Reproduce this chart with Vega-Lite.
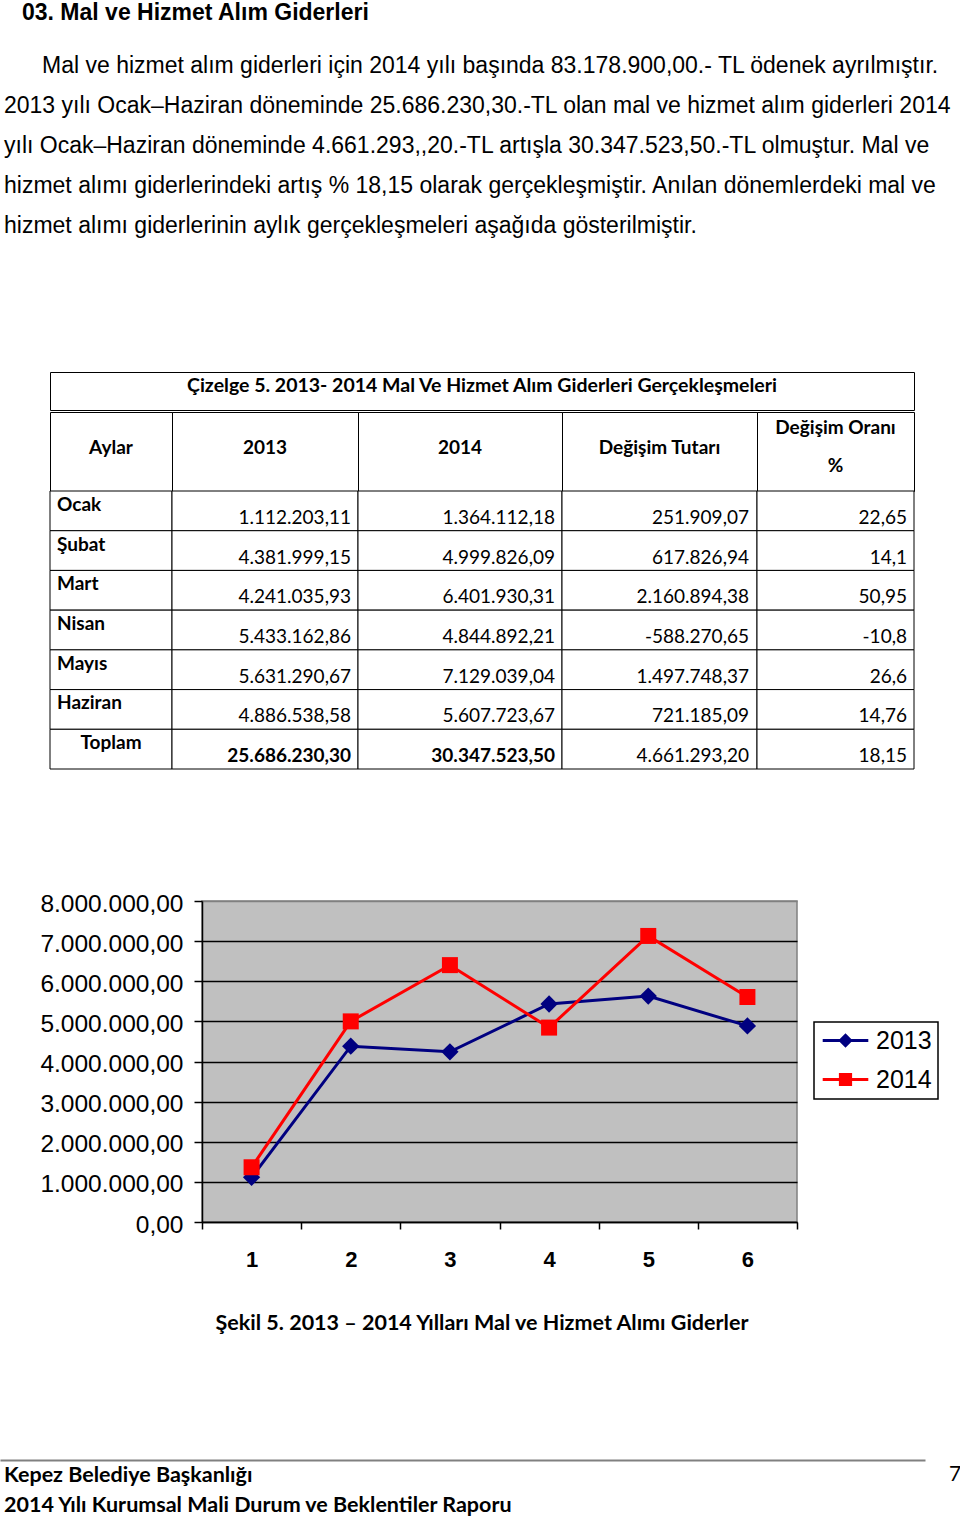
{
  "$schema": "https://vega.github.io/schema/vega-lite/v6.json",
  "padding": 0,
  "background": "white",
  "spacing": 0,
  "config": {
    "view": {"stroke": null},
    "font": "Liberation Sans",
    "text": {"color": "black"},
    "axis": {"labelColor": "black"},
    "legend": {"strokeWidth": 1.5},
    "locale": {"number": {"decimal": ",", "thousands": ".", "grouping": [3], "currency": ["", ""], "minus": "-"}}
  },
  "datasets": {
    "tablo": [
      {"no": 1, "ay": "Ocak", "2013": 1112203.11, "2014": 1364112.18, "tutar": 251909.07, "oran": 22.65},
      {"no": 2, "ay": "Şubat", "2013": 4381999.15, "2014": 4999826.09, "tutar": 617826.94, "oran": 14.1},
      {"no": 3, "ay": "Mart", "2013": 4241035.93, "2014": 6401930.31, "tutar": 2160894.38, "oran": 50.95},
      {"no": 4, "ay": "Nisan", "2013": 5433162.86, "2014": 4844892.21, "tutar": -588270.65, "oran": -10.8},
      {"no": 5, "ay": "Mayıs", "2013": 5631290.67, "2014": 7129039.04, "tutar": 1497748.37, "oran": 26.6},
      {"no": 6, "ay": "Haziran", "2013": 4886538.58, "2014": 5607723.67, "tutar": 721185.09, "oran": 14.76},
      {"no": 7, "ay": "Toplam", "2013": 25686230.30, "2014": 30347523.50, "tutar": 4661293.20, "oran": 18.15}
    ]
  },
  "vconcat": [
    {
      "width": 960, "height": 26,
      "data": {"values": [{"t": "03. Mal ve Hizmet Alım Giderleri"}]},
      "mark": {"type": "text", "align": "left", "dx": 22, "font": "Liberation Sans", "fontSize": 23, "fontWeight": "bold", "color": "black"},
      "encoding": {"text": {"field": "t"}, "x": {"value": 0}}
    },
    {"width": 960, "height": 20, "data": {"values": [{}]}, "mark": {"type": "text"}, "encoding": {"text": {"value": ""}}},
    {
      "width": 960, "height": 200,
      "data": {"values": [
        {"s": 1, "t": "Mal ve hizmet alım giderleri için 2014 yılı başında 83.178.900,00.- TL ödenek ayrılmıştır."},
        {"s": 2, "t": "2013 yılı Ocak–Haziran döneminde 25.686.230,30.-TL olan mal ve hizmet alım giderleri 2014"},
        {"s": 3, "t": "yılı Ocak–Haziran döneminde 4.661.293,,20.-TL artışla 30.347.523,50.-TL olmuştur. Mal ve"},
        {"s": 4, "t": "hizmet alımı giderlerindeki artış % 18,15 olarak gerçekleşmiştir. Anılan dönemlerdeki mal ve"},
        {"s": 5, "t": "hizmet alımı giderlerinin aylık gerçekleşmeleri aşağıda gösterilmiştir."}
      ]},
      "encoding": {
        "y": {"field": "s", "type": "ordinal", "scale": {"paddingInner": 0, "paddingOuter": 0}, "axis": null},
        "x": {"value": 0},
        "text": {"field": "t"}
      },
      "layer": [
        {"transform": [{"filter": "datum.s === 1"}], "mark": {"type": "text", "align": "left", "dx": 42, "font": "Liberation Sans", "fontSize": 23, "color": "black"}},
        {"transform": [{"filter": "datum.s > 1"}], "mark": {"type": "text", "align": "left", "dx": 4, "font": "Liberation Sans", "fontSize": 23, "color": "black"}}
      ]
    },
    {"width": 960, "height": 125, "data": {"values": [{}]}, "mark": {"type": "text"}, "encoding": {"text": {"value": ""}}},
    {
      "spacing": 0, "bounds": "flush",
      "hconcat": [
        {"width": 50, "height": 38, "data": {"values": [{}]}, "mark": {"type": "text"}, "encoding": {"text": {"value": ""}}},
        {
          "width": 864, "height": 38, "view": {"stroke": "black"},
          "data": {"values": [{"t": "Çizelge 5. 2013- 2014 Mal Ve Hizmet Alım Giderleri Gerçekleşmeleri"}]},
          "mark": {"type": "text", "font": "Lato", "fontSize": 19.5, "fontWeight": "bold", "dy": -5, "color": "black"},
          "encoding": {"text": {"field": "t"}}
        }
      ]
    },
    {
      "columns": 6, "spacing": 0, "bounds": "flush",
      "concat": [
        {"width": 50, "height": 79, "data": {"values": [{}]}, "mark": {"type": "text"}, "encoding": {"text": {"value": ""}}},
        {"width": 122, "height": 79, "view": {"stroke": "black"}, "data": {"values": [{"t": "Aylar"}]},
         "mark": {"type": "text", "font": "Lato", "fontSize": 19, "fontWeight": "bold", "dy": -4, "color": "black"}, "encoding": {"text": {"field": "t"}}},
        {"width": 186, "height": 79, "view": {"stroke": "black"}, "data": {"values": [{"t": "2013"}]},
         "mark": {"type": "text", "font": "Lato", "fontSize": 19, "fontWeight": "bold", "dy": -4, "color": "black"}, "encoding": {"text": {"field": "t"}}},
        {"width": 204, "height": 79, "view": {"stroke": "black"}, "data": {"values": [{"t": "2014"}]},
         "mark": {"type": "text", "font": "Lato", "fontSize": 19, "fontWeight": "bold", "dy": -4, "color": "black"}, "encoding": {"text": {"field": "t"}}},
        {"width": 195, "height": 79, "view": {"stroke": "black"}, "data": {"values": [{"t": "Değişim Tutarı"}]},
         "mark": {"type": "text", "font": "Lato", "fontSize": 19, "fontWeight": "bold", "dy": -4, "color": "black"}, "encoding": {"text": {"field": "t"}}},
        {"width": 157, "height": 79, "view": {"stroke": "black"}, "data": {"values": [{"t": "Değişim Oranı\n%"}]},
         "mark": {"type": "text", "font": "Lato", "fontSize": 19, "fontWeight": "bold", "dy": -23.5, "lineBreak": "\n", "lineHeight": 38, "color": "black"}, "encoding": {"text": {"field": "t"}}},

        {"width": 50, "height": 278, "data": {"values": [{}]}, "mark": {"type": "text"}, "encoding": {"text": {"value": ""}}},
        {
          "width": 122, "height": 278, "data": {"name": "tablo"},
          "encoding": {"y": {"field": "no", "type": "ordinal", "scale": {"paddingInner": 0, "paddingOuter": 0}, "axis": null}},
          "layer": [
            {"mark": {"type": "rect", "fill": "white", "stroke": "black", "strokeWidth": 1}, "encoding": {"x": {"value": 0}, "x2": {"value": "width"}}},
            {"transform": [{"filter": "datum.no < 7"}], "mark": {"type": "text", "align": "left", "dx": 7, "dy": -6, "font": "Lato", "fontSize": 19, "fontWeight": "bold", "color": "black"},
             "encoding": {"x": {"value": 0}, "text": {"field": "ay"}}},
            {"transform": [{"filter": "datum.no === 7"}], "mark": {"type": "text", "dy": -6, "font": "Lato", "fontSize": 19, "fontWeight": "bold", "color": "black"},
             "encoding": {"text": {"field": "ay"}}}
          ]
        },
        {
          "width": 186, "height": 278, "data": {"name": "tablo"},
          "encoding": {"y": {"field": "no", "type": "ordinal", "scale": {"paddingInner": 0, "paddingOuter": 0}, "axis": null}},
          "layer": [
            {"mark": {"type": "rect", "fill": "white", "stroke": "black", "strokeWidth": 1}, "encoding": {"x": {"value": 0}, "x2": {"value": "width"}}},
            {"transform": [{"filter": "datum.no < 7"}], "mark": {"type": "text", "align": "right", "dx": -7, "dy": 7, "font": "Lato", "fontSize": 19, "color": "black"},
             "encoding": {"x": {"value": "width"}, "text": {"field": "2013", "type": "quantitative", "format": ",.2f"}}},
            {"transform": [{"filter": "datum.no === 7"}], "mark": {"type": "text", "align": "right", "dx": -7, "dy": 7, "font": "Lato", "fontSize": 19, "fontWeight": "bold", "color": "black"},
             "encoding": {"x": {"value": "width"}, "text": {"field": "2013", "type": "quantitative", "format": ",.2f"}}}
          ]
        },
        {
          "width": 204, "height": 278, "data": {"name": "tablo"},
          "encoding": {"y": {"field": "no", "type": "ordinal", "scale": {"paddingInner": 0, "paddingOuter": 0}, "axis": null}},
          "layer": [
            {"mark": {"type": "rect", "fill": "white", "stroke": "black", "strokeWidth": 1}, "encoding": {"x": {"value": 0}, "x2": {"value": "width"}}},
            {"transform": [{"filter": "datum.no < 7"}], "mark": {"type": "text", "align": "right", "dx": -7, "dy": 7, "font": "Lato", "fontSize": 19, "color": "black"},
             "encoding": {"x": {"value": "width"}, "text": {"field": "2014", "type": "quantitative", "format": ",.2f"}}},
            {"transform": [{"filter": "datum.no === 7"}], "mark": {"type": "text", "align": "right", "dx": -7, "dy": 7, "font": "Lato", "fontSize": 19, "fontWeight": "bold", "color": "black"},
             "encoding": {"x": {"value": "width"}, "text": {"field": "2014", "type": "quantitative", "format": ",.2f"}}}
          ]
        },
        {
          "width": 195, "height": 278, "data": {"name": "tablo"},
          "encoding": {"y": {"field": "no", "type": "ordinal", "scale": {"paddingInner": 0, "paddingOuter": 0}, "axis": null}},
          "layer": [
            {"mark": {"type": "rect", "fill": "white", "stroke": "black", "strokeWidth": 1}, "encoding": {"x": {"value": 0}, "x2": {"value": "width"}}},
            {"mark": {"type": "text", "align": "right", "dx": -8, "dy": 7, "font": "Lato", "fontSize": 19, "color": "black"},
             "encoding": {"x": {"value": "width"}, "text": {"field": "tutar", "type": "quantitative", "format": ",.2f"}}}
          ]
        },
        {
          "width": 157, "height": 278, "data": {"name": "tablo"},
          "encoding": {"y": {"field": "no", "type": "ordinal", "scale": {"paddingInner": 0, "paddingOuter": 0}, "axis": null}},
          "layer": [
            {"mark": {"type": "rect", "fill": "white", "stroke": "black", "strokeWidth": 1}, "encoding": {"x": {"value": 0}, "x2": {"value": "width"}}},
            {"mark": {"type": "text", "align": "right", "dx": -7, "dy": 7, "font": "Lato", "fontSize": 19, "color": "black"},
             "encoding": {"x": {"value": "width"}, "text": {"field": "oran", "type": "quantitative", "format": ",.2~f"}}}
          ]
        }
      ]
    },
    {"width": 960, "height": 120, "data": {"values": [{}]}, "mark": {"type": "text"}, "encoding": {"text": {"value": ""}}},
    {
      "spacing": 0, "bounds": "flush",
      "hconcat": [
        {"width": 202, "height": 321, "data": {"values": [{}]}, "mark": {"type": "text"}, "encoding": {"text": {"value": ""}}},
        {
          "width": 595, "height": 321,
          "view": {"fill": "#c0c0c0", "stroke": "#808080", "strokeWidth": 1.5},
          "data": {"name": "tablo"},
          "transform": [
            {"filter": "datum.no < 7"},
            {"fold": ["2013", "2014"], "as": ["yil", "deger"]}
          ],
          "encoding": {
            "x": {"field": "no", "type": "ordinal", "scale": {"paddingInner": 0, "paddingOuter": 0},
                  "axis": {"title": null, "labelAngle": 0, "tickBand": "extent", "ticks": true, "tickSize": 7, "tickColor": "black", "tickWidth": 1.5,
                           "domainColor": "black", "domainWidth": 1.5, "labelFont": "Liberation Sans", "labelFontSize": 22, "labelFontWeight": "bold",
                           "labelPadding": 20, "labelColor": "black", "grid": false}},
            "y": {"field": "deger", "type": "quantitative", "scale": {"domain": [0, 8000000], "nice": false},
                  "axis": {"title": null, "values": [0, 1000000, 2000000, 3000000, 4000000, 5000000, 6000000, 7000000, 8000000],
                           "format": ",.2f", "labelFont": "Liberation Sans", "labelFontSize": 24.5, "labelColor": "black", "labelPadding": 11, "labelOffset": 3,
                           "tickSize": 8, "tickColor": "black", "tickWidth": 1.5, "domainColor": "black", "domainWidth": 1.5,
                           "grid": true, "gridWidth": 1.5, "gridColor": {"condition": {"test": "datum.value === 8000000", "value": "#808080"}, "value": "black"}}},
            "color": {"field": "yil", "type": "nominal", "scale": {"domain": ["2013", "2014"], "range": ["#000080", "#ff0000"]},
                      "legend": {"orient": "none", "legendX": 814, "legendY": 1022, "title": null, "fillColor": "white", "strokeColor": "black",
                                 "padding": 6, "labelFont": "Liberation Sans", "labelFontSize": 25, "labelColor": "black",
                                 "symbolSize": 576, "symbolStrokeWidth": 0, "rowPadding": 13, "labelOffset": 18, "symbolOffset": 13}}
          },
          "layer": [
            {"mark": {"type": "line", "strokeWidth": 3}},
            {"transform": [{"filter": "datum.yil === '2013'"}], "mark": {"type": "point", "shape": "diamond", "filled": true, "opacity": 1, "size": 300}},
            {"transform": [{"filter": "datum.yil === '2014'"}], "mark": {"type": "point", "shape": "square", "filled": true, "opacity": 1, "size": 256}},
            {"transform": [{"filter": "false"}], "mark": {"type": "point", "filled": true, "opacity": 1},
             "encoding": {"shape": {"field": "yil", "type": "nominal",
                                    "scale": {"domain": ["2013", "2014"], "range": ["M-1.9,-0.12H1.9V0.12H-1.9Z M0,-0.6L0.6,0L0,0.6L-0.6,0Z", "M-1.9,-0.12H1.9V0.12H-1.9Z M-0.55,-0.55H0.55V0.55H-0.55Z"]},
                                    "legend": {"orient": "none", "legendX": 814, "legendY": 1022, "title": null, "fillColor": "white", "strokeColor": "black",
                                               "padding": 6, "labelFont": "Liberation Sans", "labelFontSize": 25, "labelColor": "black",
                                               "symbolSize": 576, "symbolStrokeWidth": 0, "rowPadding": 13, "labelOffset": 18, "symbolOffset": 13}}}}
          ]
        }
      ]
    },
    {
      "width": 960, "height": 106,
      "data": {"values": [{"t": "Şekil 5. 2013 – 2014 Yılları Mal ve Hizmet Alımı Giderler"}]},
      "mark": {"type": "text", "font": "Lato", "fontSize": 21.5, "fontWeight": "bold", "dx": 2, "color": "black"},
      "encoding": {"text": {"field": "t"}}
    },
    {"width": 960, "height": 83, "data": {"values": [{}]}, "mark": {"type": "text"}, "encoding": {"text": {"value": ""}}},
    {
      "spacing": 0, "bounds": "flush",
      "hconcat": [
        {
          "width": 925, "height": 59,
          "data": {"values": [{"s": 1, "t": "Kepez Belediye Başkanlığı"}, {"s": 2, "t": "2014 Yılı Kurumsal Mali Durum ve Beklentiler Raporu"}]},
          "mark": {"type": "text", "align": "left", "dx": 4, "dy": 1.5, "font": "Lato", "fontSize": 21.5, "fontWeight": "bold", "color": "black"},
          "encoding": {
            "text": {"field": "t"},
            "y": {"field": "s", "type": "ordinal", "scale": {"paddingInner": 0, "paddingOuter": 0}, "axis": null},
            "x": {"datum": 0, "type": "quantitative", "scale": {"domain": [0, 1]},
                  "axis": {"orient": "top", "domain": true, "domainColor": "#808080", "domainWidth": 2, "ticks": false, "labels": false, "grid": false, "title": null}}
          }
        },
        {"width": 25, "height": 59, "data": {"values": [{}]}, "mark": {"type": "text"}, "encoding": {"text": {"value": ""}}},
        {
          "width": 10, "height": 59,
          "data": {"values": [{"s": 1, "t": "7"}]},
          "mark": {"type": "text", "font": "Lato", "fontSize": 21, "color": "black"},
          "encoding": {
            "text": {"field": "t"},
            "y": {"field": "s", "type": "ordinal", "scale": {"domain": [1, 2], "paddingInner": 0, "paddingOuter": 0}, "axis": null}
          }
        }
      ]
    }
  ]
}
